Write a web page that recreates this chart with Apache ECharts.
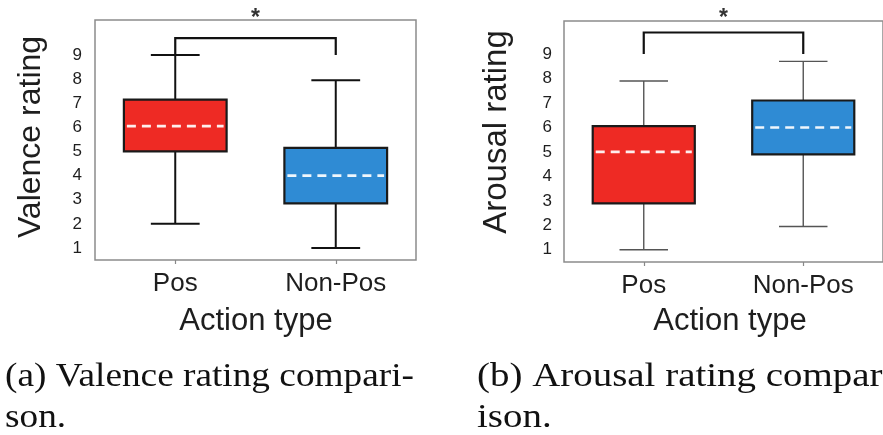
<!DOCTYPE html>
<html>
<head>
<meta charset="utf-8">
<script src="https://cdn.jsdelivr.net/npm/echarts@6/dist/echarts.min.js"></script>
<style>
html,body{margin:0;padding:0;background:#fff;}
#chart{width:883px;height:435px;}
</style>
</head>
<body>
<div id="chart"></div>
<script>
// ---- data ----
const categories = ['Pos', 'Non-Pos'];
// [min, Q1, median, Q3, max]
const valenceStats = [
  [2, 5.0, 6.05, 7.15, 9],
  [1, 2.85, 4.0, 5.15, 7.95]
];
const arousalStats = [
  [1, 2.9, 5.0, 6.05, 7.9],
  [1.95, 4.9, 6.0, 7.1, 8.7]
];
const yTickValues = [1, 2, 3, 4, 5, 6, 7, 8, 9];
// significance brackets: [top, left leg end, right leg end, star level]
const valenceBracket = [9.7, 9.0, 9.0, 10.5];
const arousalBracket = [9.88, 9.0, 9.0, 10.43];
const sigMark = '*';
const boxColors = ['#ee2a24', '#2f8bd4'];

// ---- rendering ----
const chart = echarts.init(document.getElementById('chart'), null, {renderer: 'canvas'});

function boxRenderer(whisker) {
  return function (params, api) {
    const c = api.value(0);
    const p = [1, 2, 3, 4, 5].map(i => api.coord([c, api.value(i)]));
    const bw = api.size([1, 0])[0];
    const x = p[0][0];
    const hb = bw * 0.32, hc = bw * 0.152;
    const wStyle = {stroke: whisker.color, lineWidth: whisker.width, fill: null};
    return {
      type: 'group',
      children: [
        {type: 'line', shape: {x1: x, y1: p[0][1], x2: x, y2: p[1][1]}, style: wStyle},
        {type: 'line', shape: {x1: x, y1: p[3][1], x2: x, y2: p[4][1]}, style: wStyle},
        {type: 'line', shape: {x1: x - hc, y1: p[0][1], x2: x + hc, y2: p[0][1]}, style: wStyle},
        {type: 'line', shape: {x1: x - hc, y1: p[4][1], x2: x + hc, y2: p[4][1]}, style: wStyle},
        {type: 'rect', shape: {x: x - hb, y: p[3][1], width: 2 * hb, height: p[1][1] - p[3][1]},
          style: {fill: boxColors[c], stroke: '#1a1a1a', lineWidth: 2.2}},
        {type: 'line', shape: {x1: x - hb + 3, y1: p[2][1], x2: x + hb - 3, y2: p[2][1]},
          style: {stroke: '#ffffff', lineWidth: 2.6, lineDash: [9, 6], opacity: 0.92}}
      ]
    };
  };
}

function bracketRenderer(params, api) {
  const top = api.value(2), l = api.value(3), r = api.value(4), s = api.value(5);
  const a = api.coord([api.value(0), top]);
  const b = api.coord([api.value(1), top]);
  const al = api.coord([api.value(0), l]);
  const br = api.coord([api.value(1), r]);
  const st = api.coord([api.value(0), s]);
  return {
    type: 'group',
    children: [
      {type: 'polyline', shape: {points: [al, a, b, br]},
        style: {stroke: '#111', lineWidth: 2.2, fill: null}},
      {type: 'text', x: (a[0] + b[0]) / 2, y: st[1],
        style: {text: sigMark, font: 'bold 23px "Liberation Sans", Arial, sans-serif',
          fill: '#333', align: 'center', verticalAlign: 'middle'}}
    ]
  };
}

function makeAxes(gridIndex, ymax) {
  return {
    x: {
      type: 'category', gridIndex: gridIndex, data: categories, boundaryGap: true,
      axisLine: {show: false},
      axisTick: {show: true, alignWithLabel: true, length: 4, lineStyle: {color: '#888', width: 1.2}},
      axisLabel: {fontSize: 26, fontFamily: '"Liberation Sans", Arial, sans-serif', color: '#1e1e1e', margin: 11},
      splitLine: {show: false}
    },
    y: {
      type: 'value', gridIndex: gridIndex, min: 0.5, max: ymax,
      axisLine: {show: false}, axisTick: {show: false}, splitLine: {show: false},
      axisLabel: {customValues: yTickValues, fontSize: 17, fontFamily: '"Liberation Sans", Arial, sans-serif',
        color: '#1e1e1e', margin: 13}
    }
  };
}
const axA = makeAxes(0, 10.45);
const axB = makeAxes(1, 10.35);
axB.y.axisLabel.margin = 12;

const titleFont = '"Liberation Sans", Arial, sans-serif';
const capFont = '33px "Liberation Serif", "Times New Roman", serif';

const option = {
  backgroundColor: '#ffffff',
  animation: false,
  grid: [
    {left: 95, top: 20, width: 321, height: 240, show: true, borderColor: '#8c8c8c', borderWidth: 1.5},
    {left: 564, top: 21, width: 326, height: 241, show: true, borderColor: '#8c8c8c', borderWidth: 1.5}
  ],
  xAxis: [axA.x, axB.x],
  yAxis: [axA.y, axB.y],
  series: [
    {type: 'custom', xAxisIndex: 0, yAxisIndex: 0, clip: false,
      renderItem: boxRenderer({color: '#111', width: 2}),
      encode: {x: 0, y: [1, 2, 3, 4, 5]},
      data: valenceStats.map((s, i) => [i].concat(s))},
    {type: 'custom', xAxisIndex: 0, yAxisIndex: 0, clip: false, z: 3,
      renderItem: bracketRenderer, encode: {x: [0, 1], y: [2, 3, 4]},
      data: [[0, 1].concat(valenceBracket)]},
    {type: 'custom', xAxisIndex: 1, yAxisIndex: 1, clip: false,
      renderItem: boxRenderer({color: '#555', width: 1.4}),
      encode: {x: 0, y: [1, 2, 3, 4, 5]},
      data: arousalStats.map((s, i) => [i].concat(s))},
    {type: 'custom', xAxisIndex: 1, yAxisIndex: 1, clip: false, z: 3,
      renderItem: bracketRenderer, encode: {x: [0, 1], y: [2, 3, 4]},
      data: [[0, 1].concat(arousalBracket)]}
  ],
  graphic: [
    {type: 'text', x: 31, y: 137, rotation: Math.PI / 2,
      style: {text: 'Valence rating', font: '32px ' + titleFont, fill: '#1e1e1e', align: 'center', verticalAlign: 'middle'}},
    {type: 'text', x: 497, y: 132, rotation: Math.PI / 2,
      style: {text: 'Arousal rating', font: '33px ' + titleFont, fill: '#1e1e1e', align: 'center', verticalAlign: 'middle'}},
    {type: 'text', x: 256, y: 321,
      style: {text: 'Action type', font: '31px ' + titleFont, fill: '#1e1e1e', align: 'center', verticalAlign: 'middle'}},
    {type: 'text', x: 730, y: 321,
      style: {text: 'Action type', font: '31px ' + titleFont, fill: '#1e1e1e', align: 'center', verticalAlign: 'middle'}},
    {type: 'text', x: 5, y: 377, scaleX: 1.13,
      style: {text: '(a) Valence rating compari-', font: capFont, fill: '#111', align: 'left', verticalAlign: 'middle'}},
    {type: 'text', x: 5, y: 418, scaleX: 1.13,
      style: {text: 'son.', font: capFont, fill: '#111', align: 'left', verticalAlign: 'middle'}},
    {type: 'text', x: 477, y: 377, scaleX: 1.18,
      style: {text: '(b) Arousal rating compar-', font: capFont, fill: '#111', align: 'left', verticalAlign: 'middle'}},
    {type: 'text', x: 477, y: 418, scaleX: 1.18,
      style: {text: 'ison.', font: capFont, fill: '#111', align: 'left', verticalAlign: 'middle'}}
  ]
};
chart.setOption(option);
</script>
</body>
</html>
